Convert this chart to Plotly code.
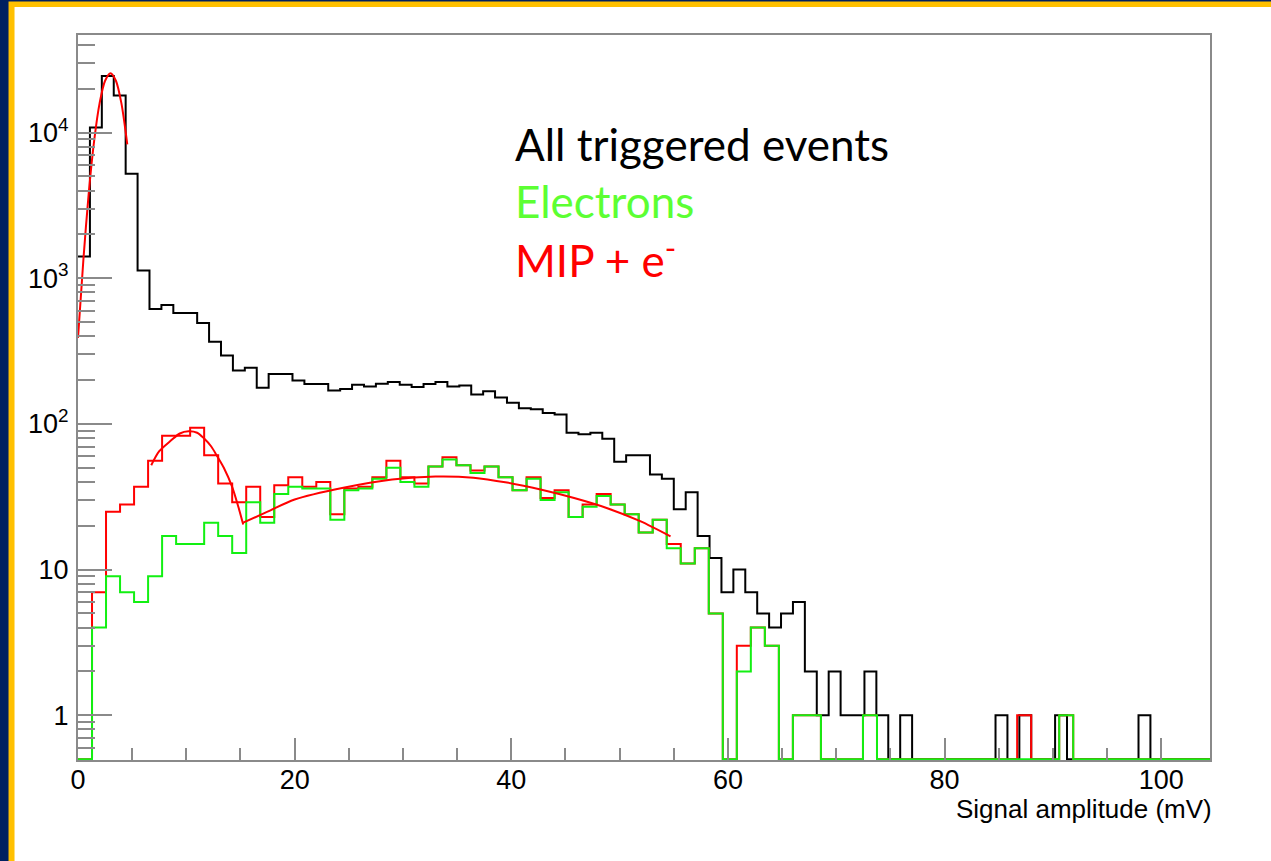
import plotly.graph_objects as go

# ---------------- data ----------------
BLACK_BIN_WIDTH = 1.1      # mV, "All triggered events"
COLOR_BIN_WIDTH = 1.294    # mV, "Electrons" and "MIP + e-"

all_counts = [1413, 10840, 24500, 17960, 5215, 1133, 615, 656, 578, 578,
              493, 366, 295, 233, 243, 177, 220, 220, 199, 188,
              188, 170, 174, 186, 181, 189, 194, 186, 179, 188,
              194, 181, 184, 159, 168, 152, 140, 128, 126, 119,
              116, 87, 85, 87, 79, 55, 61, 61, 45, 42,
              26, 34, 17, 12, 7, 10, 7, 5, 4, 5,
              6, 2, 1, 2, 1, 1, 2, 1, 0, 1,
              0, 0, 0, 0, 0, 0, 0, 1, 0, 1,
              0, 0, 1, 0, 0, 0, 0, 0, 0, 1,
              0, 0, 0, 0, 0]

mip_counts = [0, 7, 25, 28, 37, 56, 83, 83, 94, 61,
              39, 29, 37, 23, 38, 43, 37, 40, 24, 36,
              37, 43, 56, 43, 39, 51, 59, 52, 48, 51,
              43, 35, 43, 31, 35, 23, 28, 33, 28, 24,
              18, 22, 15, 11, 14, 5, 0, 3, 4, 3,
              0, 1, 1, 0, 0, 0, 1, 0, 0, 0,
              0, 0, 0, 0, 0, 0, 0, 1, 0, 0,
              1, 0, 0, 0, 0, 0, 0, 0, 0, 0,
              0]

electron_counts = [0, 4, 9, 7, 6, 9, 17, 15, 15, 21,
                   17, 13, 29, 21, 33, 37, 36, 36, 22, 35,
                   36, 42, 50, 40, 37, 51, 57, 52, 46, 51,
                   43, 35, 42, 30, 34, 23, 27, 32, 28, 24,
                   18, 22, 14, 11, 14, 5, 0, 2, 4, 3,
                   0, 1, 1, 0, 0, 0, 1, 0, 0, 0,
                   0, 0, 0, 0, 0, 0, 0, 0, 0, 0,
                   1, 0, 0, 0, 0, 0, 0, 0, 0, 0,
                   0]

# fitted curves
fit_peak_x = [0.0, 0.5, 1.0, 1.5, 2.0, 2.5, 3.0, 3.5, 4.0, 4.55]
fit_peak_y = [390, 1350, 3900, 8900, 16000, 22700, 25600, 22700, 16000, 8300]

fit_mip_x = [6.76, 7.5, 8.5, 9.4, 10.2, 11.0, 11.6, 12.3, 12.85, 13.46, 14.23, 14.8, 15.25]
fit_mip_y = [52, 65, 76, 86, 89, 87, 80, 70, 60, 50, 37, 27, 20.4]

fit_e_x = [15.25, 17.5, 20.0, 24.5, 29.0, 33.0, 36.5, 39.6, 42.7, 45.8, 48.8, 51.9, 54.7]
fit_e_y = [21.0, 25, 30.3, 36.5, 41.6, 43.6, 42.8, 39.6, 35.5, 31.0, 26.5, 21.5, 16.9]

x_major = [0, 20, 40, 60, 80, 100]
x_minor = [5, 10, 15, 25, 30, 35, 45, 50, 55, 65, 70, 75, 85, 90, 95]
y_major = [1, 10, 100, 1000, 10000]
y_major_text = ["1", "10", "10<sup>2</sup>", "10<sup>3</sup>", "10<sup>4</sup>"]
y_minor = [0.6, 0.7, 0.8, 0.9] + [m * 10 ** d for d in range(0, 5) for m in range(2, 10)]

legend_lines = ["All triggered events", "Electrons", "MIP + e<sup>-</sup>"]

X_MAX = 104.5
Y_LOG_RANGE = [-0.307, 4.6702]
ZERO_LEVEL = 0.5   # empty bins are drawn on the frame floor, as ROOT does

# ---------------- helpers ----------------
def step_xy(counts, width):
    xs = [i * width for i in range(len(counts) + 1)]
    ys = [c if c > 0 else ZERO_LEVEL for c in counts]
    ys = ys + [ys[-1]]
    return xs, ys

fig = go.Figure()

bx, by = step_xy(all_counts, BLACK_BIN_WIDTH)
fig.add_trace(go.Scatter(x=bx, y=by, mode="lines", line=dict(color="#000000", width=2, shape="hv"),
                         name="All triggered events"))
rx, ry = step_xy(mip_counts, COLOR_BIN_WIDTH)
fig.add_trace(go.Scatter(x=rx, y=ry, mode="lines", line=dict(color="#ff0000", width=2, shape="hv"),
                         name="MIP + e-"))
gx, gy = step_xy(electron_counts, COLOR_BIN_WIDTH)
fig.add_trace(go.Scatter(x=gx, y=gy, mode="lines", line=dict(color="#12f012", width=2, shape="hv"),
                         name="Electrons"))
for fx, fy in [(fit_peak_x, fit_peak_y), (fit_mip_x, fit_mip_y), (fit_e_x, fit_e_y)]:
    fig.add_trace(go.Scatter(x=fx, y=fy, mode="lines",
                             line=dict(color="#ff0000", width=2, shape="spline", smoothing=0.8)))

# ---------------- page geometry ----------------
W, H = 1271, 861
PL, PR, PT, PB = 77.5, 1210.0, 35.0, 760.5

def px_x(p):
    return (p - PL) / (PR - PL)

def px_y(p):
    return (PB - p) / (PB - PT)

shapes = [
    dict(type="rect", xref="paper", yref="paper", layer="below",
         x0=px_x(8), x1=px_x(1300), y0=px_y(900), y1=px_y(1.5),
         fillcolor="#ffc000", line=dict(width=0)),
    dict(type="rect", xref="paper", yref="paper", layer="below",
         x0=px_x(14), x1=px_x(1300), y0=px_y(900), y1=px_y(7),
         fillcolor="#ffffff", line=dict(width=0)),
]

legend_colors = ["#000000", "#5cff33", "#ff0000"]
legend_mid = [144, 201, 258]
annotations = []
for txt, col, yc in zip(legend_lines, legend_colors, legend_mid):
    annotations.append(dict(text=txt, xref="paper", yref="paper", x=px_x(513), y=px_y(yc),
                            xanchor="left", yanchor="middle", showarrow=False,
                            font=dict(family="Lato, Carlito, Open Sans, sans-serif", size=44, color=col)))
annotations.append(dict(text="Signal amplitude (mV)", xref="paper", yref="paper",
                        x=px_x(1214), y=px_y(810), xanchor="right", yanchor="middle", showarrow=False,
                        font=dict(family="Liberation Sans, Arial, sans-serif",
                                  size=26, color="#000000")))

tick_font = dict(family="Liberation Sans, Arial, sans-serif", size=27, color="#000000")
axis_grey = "#8a8a8a"

fig.update_layout(
    width=W, height=H,
    margin=dict(l=PL, r=W - PR, t=PT, b=H - PB, pad=0),
    paper_bgcolor="#002060", plot_bgcolor="rgba(0,0,0,0)",
    showlegend=False,
    shapes=shapes, annotations=annotations,
    xaxis=dict(range=[0, X_MAX], showgrid=False, zeroline=False,
               showline=True, linecolor=axis_grey, linewidth=2, mirror=True,
               tickmode="array", tickvals=x_major, ticktext=[str(v) for v in x_major],
               ticks="inside", ticklen=22, tickwidth=1.5, tickcolor=axis_grey,
               tickfont=tick_font, ticklabelstandoff=-5,
               minor=dict(tickmode="array", tickvals=x_minor, ticks="inside", ticklen=12,
                          tickwidth=1.5, tickcolor=axis_grey, showgrid=False)),
    yaxis=dict(type="log", range=Y_LOG_RANGE, showgrid=False, zeroline=False,
               showline=True, linecolor=axis_grey, linewidth=2, mirror=True,
               tickmode="array", tickvals=y_major, ticktext=y_major_text,
               ticks="inside", ticklen=34, tickwidth=1.5, tickcolor=axis_grey,
               tickfont=tick_font, ticklabelstandoff=2,
               minor=dict(tickmode="array", tickvals=y_minor, ticks="inside", ticklen=17,
                          tickwidth=1.5, tickcolor=axis_grey, showgrid=False)),
)

fig.write_html("out.html")
